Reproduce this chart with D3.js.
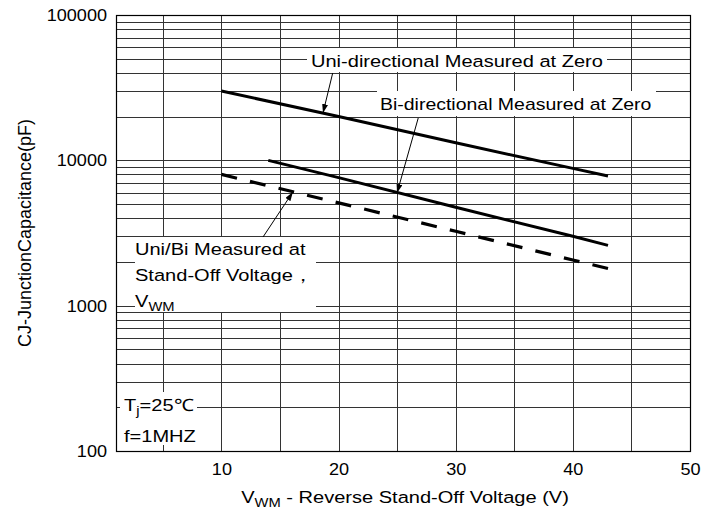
<!DOCTYPE html>
<html>
<head>
<meta charset="utf-8">
<script src="https://cdn.jsdelivr.net/npm/d3@7"></script>
<style>
  body { margin: 0; background: #fff; }
  svg text { font-family: "Liberation Sans", Arial, sans-serif; fill: #000; }
</style>
</head>
<body>
<svg width="717" height="513"></svg>
<script>
// capacitance curves
var uniV   = [10, 20, 30, 40, 43];
var uniC   = [30000, 20000, 13200, 8800, 7800];
var biV    = [14, 20, 30, 40, 43];
var biC    = [10000, 7600, 4750, 3000, 2600];
var vwmV   = [10, 20, 30, 40, 43];
var vwmC   = [8000, 5100, 3250, 2060, 1800];

var xTicks = [10, 20, 30, 40, 50];
var xGrid  = [5, 10, 15, 20, 25, 30, 35, 40, 45];
var yTicks = [100, 1000, 10000, 100000];

var svg = d3.select("svg"),
    margin = {top: 15, right: 27, bottom: 62, left: 116},
    width = +svg.attr("width") - margin.left - margin.right,
    height = +svg.attr("height") - margin.top - margin.bottom;

var sxTick = 1.065; // text in the picture is a bit wide
var sx = 1.18;

var x = d3.scaleLinear().domain([1, 50]).range([0, width]);
var y = d3.scaleLog().domain([100, 100000]).range([height, 0]);

var g = svg.append("g")
    .attr("transform", "translate(" + margin.left + "," + margin.top + ")");

// grid
g.append("g").selectAll("line")
    .data(y.ticks())
    .enter().append("line")
        .attr("x1", 0).attr("x2", width)
        .attr("y1", function(d) { return Math.round(y(d)) + 0.5; })
        .attr("y2", function(d) { return Math.round(y(d)) + 0.5; })
        .attr("stroke", "#333").attr("stroke-width", 1);

g.append("g").selectAll("line")
    .data(xGrid)
    .enter().append("line")
        .attr("y1", 0).attr("y2", height)
        .attr("x1", function(d) { return Math.round(x(d)) + 0.5; })
        .attr("x2", function(d) { return Math.round(x(d)) + 0.5; })
        .attr("stroke", "#333").attr("stroke-width", 1);

// white boxes behind the notes (page coords)
var boxes = [
    [307 - margin.left, 48 - margin.top, 300, 24],
    [377 - margin.left, 91 - margin.top, 279, 25],
    [135 - margin.left, 237 - margin.top, 181, 75],
    [120 - margin.left, 392 - margin.top, 77, 53]
];
g.append("g").selectAll("rect")
    .data(boxes)
    .enter().append("rect")
        .attr("x", function(d) { return d[0]; })
        .attr("y", function(d) { return d[1]; })
        .attr("width", function(d) { return d[2]; })
        .attr("height", function(d) { return d[3]; })
        .attr("fill", "#fff");

// curves
var line = d3.line()
    .x(function(d) { return x(d[0]); })
    .y(function(d) { return y(d[1]); });

function pairs(a, b) { return a.map(function(v, i) { return [v, b[i]]; }); }

g.append("path").datum(pairs(uniV, uniC))
    .attr("d", line).attr("fill", "none")
    .attr("stroke", "#000").attr("stroke-width", 3);
g.append("path").datum(pairs(biV, biC))
    .attr("d", line).attr("fill", "none")
    .attr("stroke", "#000").attr("stroke-width", 3);
var dashed = g.append("path").datum(pairs(vwmV, vwmC))
    .attr("d", line).attr("fill", "none")
    .attr("stroke", "#000").attr("stroke-width", 3.2);

// fit the dash period so the line ends on a whole dash
var dash = 16,
    len = dashed.node().getTotalLength(),
    n = Math.round((len - dash) / 28.3),
    period = (len - dash) / n;
dashed.attr("stroke-dasharray", dash + "," + (period - dash));

// arrows: [tailV, tailC, tipV, tipC]
svg.append("defs").append("marker")
    .attr("id", "arr")
    .attr("markerUnits", "userSpaceOnUse")
    .attr("markerWidth", 10).attr("markerHeight", 6)
    .attr("refX", 9).attr("refY", 3)
    .attr("orient", "auto")
    .append("path").attr("d", "M0,0 L9,3 L0,6 z").attr("fill", "#000");

var arrows = [
    [19.5, 39900, 18.67, 21170],
    [26.8, 19550, 24.99, 5960],
    [13.55, 2966, 16.1, 6055]
];
g.append("g").selectAll("line")
    .data(arrows)
    .enter().append("line")
        .attr("x1", function(d) { return x(d[0]); })
        .attr("y1", function(d) { return y(d[1]); })
        .attr("x2", function(d) { return x(d[2]); })
        .attr("y2", function(d) { return y(d[3]); })
        .attr("stroke", "#000").attr("stroke-width", 1)
        .attr("marker-end", "url(#arr)");

// frame
g.append("rect")
    .attr("x", 0.5).attr("y", 0.5)
    .attr("width", width).attr("height", height)
    .attr("fill", "none").attr("stroke", "#000").attr("stroke-width", 1.2);

// Y axis labels
g.append("g")
    .call(d3.axisLeft(y).tickValues(yTicks).tickSize(0).tickPadding(9).tickFormat(d3.format("d")))
    .call(function(a) { a.select(".domain").remove(); })
    .selectAll("text")
        .attr("x", -9 / sxTick)
        .attr("transform", "scale(" + sxTick + ",1)")
        .style("font-size", "17px")
        .style("font-family", "'Liberation Sans', Arial, sans-serif");

// X axis labels
g.append("g")
    .attr("transform", "translate(0," + height + ")")
    .call(d3.axisBottom(x).tickValues(xTicks).tickSize(0).tickPadding(12))
    .call(function(a) { a.select(".domain").remove(); })
    .selectAll("text")
        .attr("y", 24).attr("dy", 0)
        .attr("transform", "scale(" + sxTick + ",1)")
        .style("font-size", "17px")
        .style("font-family", "'Liberation Sans', Arial, sans-serif");

// text helper, page coords
function note(px, py, anchor, s) {
    return svg.append("g")
        .attr("transform", "translate(" + px + "," + py + ") scale(" + (s || sx) + ",1)")
        .append("text")
            .attr("text-anchor", anchor || "start")
            .style("font-size", "17px");
}

note(311, 67).text("Uni-directional Measured at Zero");
note(380, 110, "start", 1.145).text("Bi-directional Measured at Zero");
note(135, 255).text("Uni/Bi Measured at");
note(135, 280.5).text("Stand-Off Voltage\uff0c");
var t = note(135, 306.5);
t.append("tspan").text("V");
t.append("tspan").attr("dy", 4).style("font-size", "12.5px").text("WM");

t = note(124, 411);
t.append("tspan").text("T");
t.append("tspan").attr("dy", 4).style("font-size", "12.5px").text("j");
t.append("tspan").attr("dy", -4).text("=25\u2103");
note(124, 441.5).text("f=1MHZ");

// axis titles
t = note(405, 503, "middle");
t.append("tspan").text("V");
t.append("tspan").attr("dy", 4).style("font-size", "12.5px").text("WM");
t.append("tspan").attr("dy", -4).text(" - Reverse Stand-Off Voltage (V)");

svg.append("text")
    .attr("transform", "translate(31,233) rotate(-90)")
    .attr("text-anchor", "middle")
    .style("font-size", "18px")
    .text("CJ-JunctionCapacitance(pF)");
</script>
</body>
</html>
